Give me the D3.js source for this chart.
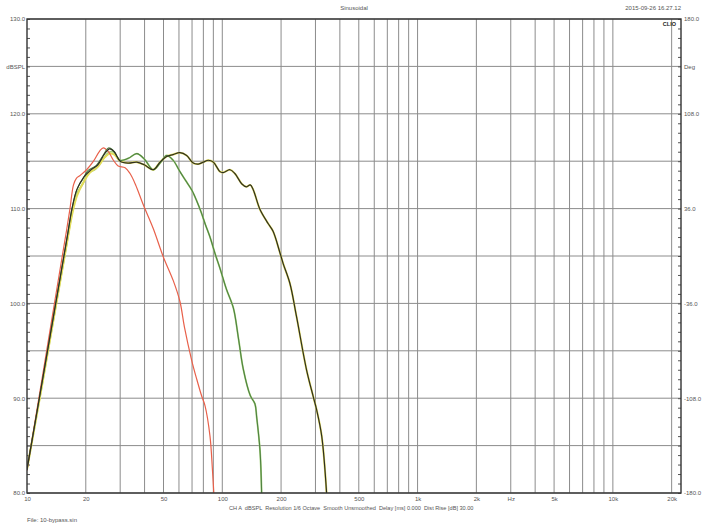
<!DOCTYPE html>
<html><head><meta charset="utf-8">
<script src="https://cdn.jsdelivr.net/npm/d3@7"></script>
<style>
body{margin:0;background:#fff;}
text{font-family:"Liberation Sans",Arial,sans-serif;}
</style>
</head><body>
<svg id="c" width="708" height="531"></svg>
<script>
// ---------- data ----------
const xGridFreqs = [20,30,40,50,60,70,80,90,100,200,300,400,500,600,700,800,900,1000,2000,3000,4000,5000,6000,7000,8000,9000,10000,20000];
const xTickValues = [10,20,50,100,200,500,1000,2000,3000,5000,10000,20000];
const xTickLabels = ["10","20","50","100","200","500","1k","2k","Hz","5k","10k","20k"];
const yGridValues = [80,85,90,95,100,105,110,115,120,125,130];
const yLeftTickValues = [130,125,120,110,100,90,80];
const yLeftTickLabels = ["130.0","dBSPL","120.0","110.0","100.0","90.0","80.0"];
const yRightTickValues = [180,144,108,36,-36,-108,-180];
const yRightTickLabels = ["180.0","Deg","108.0","36.0","-36.0","-108.0","-180.0"];

// red curve (narrow low-pass)
const redFreq = [10,12,14,16,16.6,17.3,17.9,18.7,20.2,21.9,23.6,24.6,26.1,27.7,29.3,31.8,33.7,36,39.4,44.3,49.9,56.1,60.7,64,69.7,74,78.5,81.6,86.5,89,90.5];
const redDb   = [82.4,92.3,100.7,107.9,110,112.5,113.2,113.5,114.1,115,116.1,116.4,116,115.1,114.5,114.3,113.7,112.5,110.4,107.9,104.9,102.4,100.2,97.5,94,92,90.2,89.2,86,82.5,80];

// middle curve (dark green + light green halo)
const midFreq = [10,12,14,16,17,18,19.4,20.5,22.5,24.5,26.1,27.5,30,33,36.5,40,44.3,48,51.9,56,60.7,65.7,70,74,78,82,86.5,92,97.3,105,114,121,128,139,147,150,156,159];
const midDb   = [82.5,91.9,99.9,106.8,110,112,113.2,114,114.5,115.6,116.4,116.2,115.1,115.3,115.8,115.2,114.1,114.8,115.6,115.1,113.9,112.8,111.9,110.8,109.6,108.3,107,105.2,103.7,101.5,99.5,96.3,93.1,90.3,89.4,88,84.5,80];
const midLightDb = [82.5,91.7,99.6,106.4,109.5,111.6,112.7,113.7,114.2,115.2,115.9,116,115.1,115.3,115.8,115.2,114.1,114.8,115.6,115.1,113.9,112.8,111.9,110.8,109.6,108.3,107,105.2,103.7,101.5,99.5,96.3,93.1,90.3,89.4,88,84.5,80];

// wide curve (dark olive over yellow)
const wideFreq = [10,12,14,16,17,18,19.5,21,23,25,26.5,28,30,33,36.5,40,44.3,48,51.9,56,60.7,65.7,71,75.4,80,84.8,90,97.3,101,109.5,116,126,133,139,144,156,172,182,197,205,222,240,270,292,304,323,342];
const wideDb   = [82.5,91.9,99.9,106.8,110,112,113.3,114,114.6,115.8,116.3,116,115,114.8,114.9,114.6,114.1,114.9,115.5,115.7,115.9,115.6,114.8,114.7,114.9,115.1,114.9,113.9,113.8,114.1,113.7,112.6,112.3,112.5,112,109.9,108.4,107.6,105.4,104.2,102.1,98.6,93,90.2,88.8,86,80];
const yellowDb = [82.5,91.6,99.5,106.3,109.3,111.3,112.8,113.8,114.4,115.4,115.8,115.7,115,114.8,114.9,114.6,114.1,114.9,115.5,115.7,115.9,115.6,114.8,114.7,114.9,115.1,114.9,113.9,113.8,114.1,113.7,112.6,112.3,112.5,112,109.9,108.4,107.6,105.4,104.2,102.1,98.6,93,90.2,88.8,86,80];

// ---------- layout ----------
const L = 27, T = 19, R = 681, B = 493;
const svg = d3.select("#c");
const x = d3.scaleLog().domain([10, 22330]).range([L, R]);
const y = d3.scaleLinear().domain([80, 130]).range([B, T]);
const yPh = d3.scaleLinear().domain([-180, 180]).range([B, T]);
const textCol = "#555";
const fs = 6;

// grid
const g = svg.append("g");
g.selectAll("line.vx").data(xGridFreqs).join("line")
  .attr("x1", d => x(d)).attr("x2", d => x(d)).attr("y1", T).attr("y2", B)
  .attr("stroke", "#8c8c8c").attr("stroke-width", 1);
g.selectAll("line.hy").data(yGridValues).join("line")
  .attr("x1", L).attr("x2", R).attr("y1", d => y(d)).attr("y2", d => y(d))
  .attr("stroke", "#8c8c8c").attr("stroke-width", 1);

// minor ticks (inward)
const minorLeft = d3.axisLeft(y).tickValues(d3.range(80, 131, 1)).tickSize(-3).tickFormat("");
svg.append("g").attr("transform", `translate(${L},0)`).call(minorLeft)
  .call(s => s.select(".domain").remove())
  .selectAll("line").attr("stroke", "#555");
const minorRight = d3.axisRight(yPh).tickValues(d3.range(-180, 181, 7.2)).tickSize(-3).tickFormat("");
svg.append("g").attr("transform", `translate(${R},0)`).call(minorRight)
  .call(s => s.select(".domain").remove())
  .selectAll("line").attr("stroke", "#555");

// labels via axes
const leftAx = d3.axisLeft(y).tickValues(yLeftTickValues).tickSize(0).tickPadding(2)
  .tickFormat((d, i) => yLeftTickLabels[i]);
svg.append("g").attr("transform", `translate(${L},0)`).call(leftAx)
  .call(s => s.select(".domain").remove())
  .selectAll("text").attr("font-size", fs).attr("fill", textCol).attr("font-family", "Liberation Sans, Arial, sans-serif");
const rightAx = d3.axisRight(yPh).tickValues(yRightTickValues).tickSize(0).tickPadding(3)
  .tickFormat((d, i) => yRightTickLabels[i]);
svg.append("g").attr("transform", `translate(${R},0)`).call(rightAx)
  .call(s => s.select(".domain").remove())
  .selectAll("text").attr("font-size", fs).attr("fill", textCol).attr("font-family", "Liberation Sans, Arial, sans-serif");
const bottomAx = d3.axisBottom(x).tickValues(xTickValues).tickSize(0).tickPadding(4)
  .tickFormat((d, i) => xTickLabels[i]);
svg.append("g").attr("transform", `translate(0,${B})`).call(bottomAx)
  .call(s => s.select(".domain").remove())
  .selectAll("text").attr("font-size", fs).attr("fill", textCol).attr("font-family", "Liberation Sans, Arial, sans-serif");

// curves
svg.append("clipPath").attr("id", "clip").append("rect")
  .attr("x", L).attr("y", T).attr("width", R - L).attr("height", B - T);
const plot = svg.append("g").attr("clip-path", "url(#clip)");
function addCurve(fr, db, color, w) {
  const line = d3.line().x((d, i) => x(fr[i])).y(d => y(d)).curve(d3.curveCatmullRom.alpha(0.5));
  plot.append("path").datum(db).attr("d", line)
    .attr("fill", "none").attr("stroke", color).attr("stroke-width", w)
    .attr("stroke-linejoin", "round").attr("stroke-linecap", "round");
}
addCurve(midFreq, midLightDb, "#a4cf7c", 1.8);
addCurve(wideFreq, yellowDb, "#e2dc5a", 2.0);
addCurve(redFreq, redDb, "#e8604a", 1.2);
addCurve(midFreq, midDb, "#4f8240", 1.1);
addCurve(wideFreq, wideDb, "#2e2e22", 1.2);

// frame
svg.append("rect").attr("x", L).attr("y", T).attr("width", R - L).attr("height", B - T)
  .attr("fill", "none").attr("stroke", "#333").attr("stroke-width", 1.4);

// texts
svg.append("text").attr("x", (L + R) / 2).attr("y", 10).attr("text-anchor", "middle")
  .attr("font-size", fs).attr("fill", textCol).text("Sinusoidal");
svg.append("text").attr("x", R).attr("y", 10).attr("text-anchor", "end")
  .attr("font-size", fs).attr("fill", textCol).text("2015-09-26 16.27.12");
svg.append("text").attr("x", R - 5).attr("y", 26).attr("text-anchor", "end")
  .attr("font-size", 5.5).attr("font-weight", "bold").attr("fill", "#222").text("CLIO");
svg.append("text").attr("x", 229).attr("y", 510)
  .attr("font-size", 5.6).attr("fill", textCol).style("white-space", "pre")
  .text("CH A  dBSPL  Resolution 1/6 Octave  Smooth Unsmoothed  Delay [ms] 0.000  Dist Rise [dB] 30.00");
svg.append("text").attr("x", L).attr("y", 522)
  .attr("font-size", fs).attr("fill", textCol).text("File: 10-bypass.sin");
</script>
</body></html>
